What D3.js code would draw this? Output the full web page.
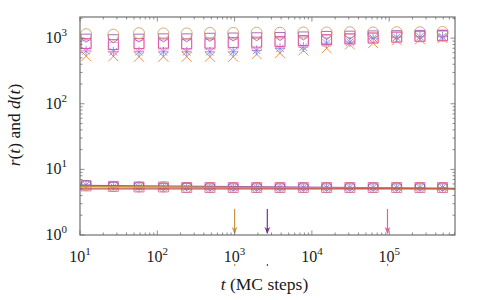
<!DOCTYPE html>
<html>
<head>
<meta charset="utf-8">
<script src="https://cdn.jsdelivr.net/npm/d3@7/dist/d3.min.js"></script>
<style>
  body { margin: 0; background: #fff; }
  text { font-family: "Liberation Serif", "DejaVu Serif", serif; fill: #1a1a1a; }
</style>
</head>
<body>
<div id="chart"></div>
<script>
// MC time of each sample
var tSteps = [12, 27, 58, 120, 240, 480, 960, 1930, 3870, 7750, 15500, 31000, 62000, 125000, 250000, 490000];

// r(t), upper group
var rCircle  = [1150, 1130, 1190, 1180, 1180, 1200, 1200, 1210, 1210, 1220, 1220, 1230, 1220, 1230, 1230, 1240];
var rPenta   = [1000, 980, 1000, 1010, 1010, 1030, 1040, 1050, 1060, 1080, 1100, 1110, 1120, 1130, 1140, 1150];
var rSquare  = [830, 800, 830, 840, 820, 840, 860, 870, 890, 920, 950, 980, 1010, 1040, 1070, 1090];
var rSquare2 = [780, 720, 780, 790, 790, 800, 810, 830, 860, 890, 920, 950, 990, 1020, 1050, 1070];
var rStar    = [640, 620, 620, 620, 620, 620, 620, 650, 700, 730, 840, 870, 1000, 1030, 1050, 1050];
var rCross   = [530, 530, 520, 520, 520, 520, 520, 570, 590, 650, 700, 800, 840, 930, 960, 1000];

// d(t), lower group
var dCircle  = [5.7, 5.5, 5.4, 5.4, 5.3, 5.3, 5.3, 5.3, 5.3, 5.3, 5.3, 5.3, 5.3, 5.3, 5.3, 5.3];
var dPenta   = [5.9, 5.6, 5.5, 5.4, 5.4, 5.3, 5.3, 5.3, 5.3, 5.3, 5.3, 5.3, 5.3, 5.3, 5.3, 5.3];
var dSquare  = [5.6, 5.5, 5.4, 5.4, 5.3, 5.3, 5.3, 5.3, 5.3, 5.3, 5.3, 5.3, 5.3, 5.3, 5.3, 5.3];
var dStar    = [5.8, 5.5, 5.4, 5.4, 5.3, 5.3, 5.3, 5.3, 5.3, 5.3, 5.3, 5.3, 5.3, 5.3, 5.3, 5.3];

// fitted lines through d(t)
var fitT      = [10, 700000];
var fitRed    = [5.05, 5.05];
var fitTan    = [5.5, 5.1];
var fitPurple = [5.7, 5.15];
var fitPink   = [5.4, 5.1];

// arrows marking crossover times
var arrowT      = [1000, 2650, 95000];
var arrowColors = ["#c8963e", "#7b3294", "#f0589e"];
var arrowTop = 2.5, arrowBottom = 1.06;

var xTicks = [1e1, 1e2, 1e3, 1e4, 1e5];
var xTickExp = ["1", "2", "3", "4", "5"];
var yTicks = [1e0, 1e1, 1e2, 1e3];
var yTickExp = ["0", "1", "2", "3"];

var width = 480, height = 300;
var margin = {left: 80, right: 25, top: 17, bottom: 65};
var plotW = width - margin.left - margin.right;
var plotH = height - margin.top - margin.bottom;

var svg = d3.select("#chart")
    .append("svg")
    .attr("width", width)
    .attr("height", height);

var g = svg.append("g")
    .attr("transform", "translate(" + margin.left + "," + margin.top + ")");

var x = d3.scaleLog().domain([10, 710000]).range([0, plotW]);
var y = d3.scaleLog().domain([1, 2100]).range([plotH, 0]);

// marker shapes
function shapePath(kind, s) {
    if (kind == "circle") {
        return d3.symbol().type(d3.symbolCircle).size(Math.PI * s * s)();
    }
    if (kind == "square") {
        return "M" + (-s) + "," + (-s) + "H" + s + "V" + s + "H" + (-s) + "Z";
    }
    if (kind == "penta") {
        return "M" + (-s) + "," + (-s * 0.8) + "H" + s + "V" + (s * 0.1) + "L0," + (s * 0.8) + "L" + (-s) + "," + (s * 0.1) + "Z";
    }
    if (kind == "star") {
        return "M" + (-s) + ",0H" + s + "M0," + (-s) + "V" + s +
            "M" + (-s * 0.75) + "," + (-s * 0.75) + "L" + (s * 0.75) + "," + (s * 0.75) +
            "M" + (-s * 0.75) + "," + (s * 0.75) + "L" + (s * 0.75) + "," + (-s * 0.75);
    }
    // cross
    return "M" + (-s) + "," + (-s) + "L" + s + "," + s + "M" + (-s) + "," + s + "L" + s + "," + (-s);
}

var series = [
    {vals: rCross,   shape: "cross",  size: 5,   color: "#f07d2a"},
    {vals: rStar,    shape: "star",   size: 5,   color: "#8080dd"},
    {vals: rSquare2, shape: "square", size: 5,   color: "#f4a6cf"},
    {vals: rSquare,  shape: "square", size: 5,   color: "#e0409e"},
    {vals: rPenta,   shape: "penta",  size: 5,   color: "#9b55b0"},
    {vals: rCircle,  shape: "circle", size: 5.5, color: "#caa062"},
    {vals: dSquare,  shape: "square", size: 5,   color: "#e660ae"},
    {vals: dCircle,  shape: "circle", size: 5,   color: "#b98a55"},
    {vals: dPenta,   shape: "penta",  size: 4.5, color: "#9b55b0"},
    {vals: dStar,    shape: "star",   size: 4,   color: "#8080dd"}
];

series.forEach(function (s) {
    g.append("g")
        .selectAll("path")
        .data(s.vals)
        .enter()
        .append("path")
        .attr("transform", function (d, i) {
            return "translate(" + x(tSteps[i]) + "," + y(d) + ")";
        })
        .attr("d", shapePath(s.shape, s.size))
        .attr("fill", "none")
        .attr("stroke", s.color)
        .attr("stroke-width", 1)
        .attr("stroke-opacity", 0.85);
});

// fit lines
var line = d3.line()
    .x(function (d, i) { return x(fitT[i]); })
    .y(function (d) { return y(d); });

[[fitPink, "#ee88c0"], [fitPurple, "#9b55b0"], [fitTan, "#c8963e"], [fitRed, "#c0504d"]].forEach(function (f) {
    g.append("path")
        .datum(f[0])
        .attr("d", line)
        .attr("fill", "none")
        .attr("stroke", f[1])
        .attr("stroke-width", 1.2);
});

// arrows
var defs = svg.append("defs");
arrowColors.forEach(function (c, i) {
    defs.append("marker")
        .attr("id", "ah" + i)
        .attr("viewBox", "0 0 10 10")
        .attr("refX", 9).attr("refY", 5)
        .attr("markerWidth", 6).attr("markerHeight", 6)
        .attr("orient", "auto")
        .append("path")
        .attr("d", "M0,1L10,5L0,9L3,5Z")
        .attr("fill", c);
});

g.append("g")
    .selectAll("line")
    .data(arrowT)
    .enter()
    .append("line")
    .attr("x1", function (d) { return x(d); })
    .attr("x2", function (d) { return x(d); })
    .attr("y1", y(arrowTop))
    .attr("y2", y(arrowBottom))
    .attr("stroke", function (d, i) { return arrowColors[i]; })
    .attr("stroke-width", 1.2)
    .attr("marker-end", function (d, i) { return "url(#ah" + i + ")"; });

// little marks below the axis labels
g.append("g")
    .selectAll("rect")
    .data(arrowT)
    .enter()
    .append("rect")
    .attr("x", function (d) { return x(d) - 0.5; })
    .attr("y", plotH + 29)
    .attr("width", 1.2)
    .attr("height", 2)
    .attr("fill", function (d, i) { return arrowColors[i]; });

// frame and ticks
var frameColor = "#707070";
g.append("rect")
    .attr("width", plotW)
    .attr("height", plotH)
    .attr("fill", "none")
    .attr("stroke", frameColor)
    .attr("stroke-width", 1.2);

var xMinor = [], yMinor = [];
for (var k = 1; k <= 5; k++) {
    for (var m = 2; m <= 9; m++) {
        if (m * Math.pow(10, k) < 710000) xMinor.push(m * Math.pow(10, k));
    }
}
for (var k2 = 0; k2 <= 3; k2++) {
    for (var m2 = 2; m2 <= 9; m2++) {
        if (m2 * Math.pow(10, k2) < 2100) yMinor.push(m2 * Math.pow(10, k2));
    }
}

var ticks = g.append("g").attr("stroke", frameColor).attr("stroke-width", 0.8);
function xTickLines(vals, len) {
    vals.forEach(function (v) {
        ticks.append("line").attr("x1", x(v)).attr("x2", x(v)).attr("y1", plotH).attr("y2", plotH - len);
        ticks.append("line").attr("x1", x(v)).attr("x2", x(v)).attr("y1", 0).attr("y2", len);
    });
}
function yTickLines(vals, len) {
    vals.forEach(function (v) {
        ticks.append("line").attr("y1", y(v)).attr("y2", y(v)).attr("x1", 0).attr("x2", len);
        ticks.append("line").attr("y1", y(v)).attr("y2", y(v)).attr("x1", plotW).attr("x2", plotW - len);
    });
}
xTickLines(xTicks, 4.5);
xTickLines(xMinor, 2.5);
yTickLines(yTicks, 4.5);
yTickLines(yMinor, 2.5);

// tick labels
var xLab = g.append("g")
    .selectAll("text")
    .data(xTicks)
    .enter()
    .append("text")
    .attr("x", function (d) { return x(d); })
    .attr("y", plotH + 27)
    .attr("text-anchor", "middle")
    .style("font-size", "16px");
xLab.append("tspan").text("10");
xLab.append("tspan").attr("dy", -7).style("font-size", "11px").text(function (d, i) { return xTickExp[i]; });

var yLab = g.append("g")
    .selectAll("text")
    .data(yTicks)
    .enter()
    .append("text")
    .attr("x", -13)
    .attr("y", function (d) { return y(d) + 5; })
    .attr("text-anchor", "end")
    .style("font-size", "16px");
yLab.append("tspan").text("10");
yLab.append("tspan").attr("dy", -7).style("font-size", "11px").text(function (d, i) { return yTickExp[i]; });

// axis titles
var xt = svg.append("text")
    .attr("x", margin.left + plotW / 2 - 3)
    .attr("y", 290)
    .attr("text-anchor", "middle")
    .style("font-size", "17.5px");
xt.append("tspan").style("font-style", "italic").text("t");
xt.append("tspan").text(" (MC steps)");

var yt = svg.append("text")
    .attr("transform", "translate(20," + (margin.top + plotH / 2 - 1) + ") rotate(-90)")
    .attr("text-anchor", "middle")
    .style("font-size", "17.5px");
yt.append("tspan").style("font-style", "italic").text("r");
yt.append("tspan").text("(");
yt.append("tspan").style("font-style", "italic").text("t");
yt.append("tspan").text(") and ");
yt.append("tspan").style("font-style", "italic").text("d");
yt.append("tspan").text("(");
yt.append("tspan").style("font-style", "italic").text("t");
yt.append("tspan").text(")");
</script>
</body>
</html>
